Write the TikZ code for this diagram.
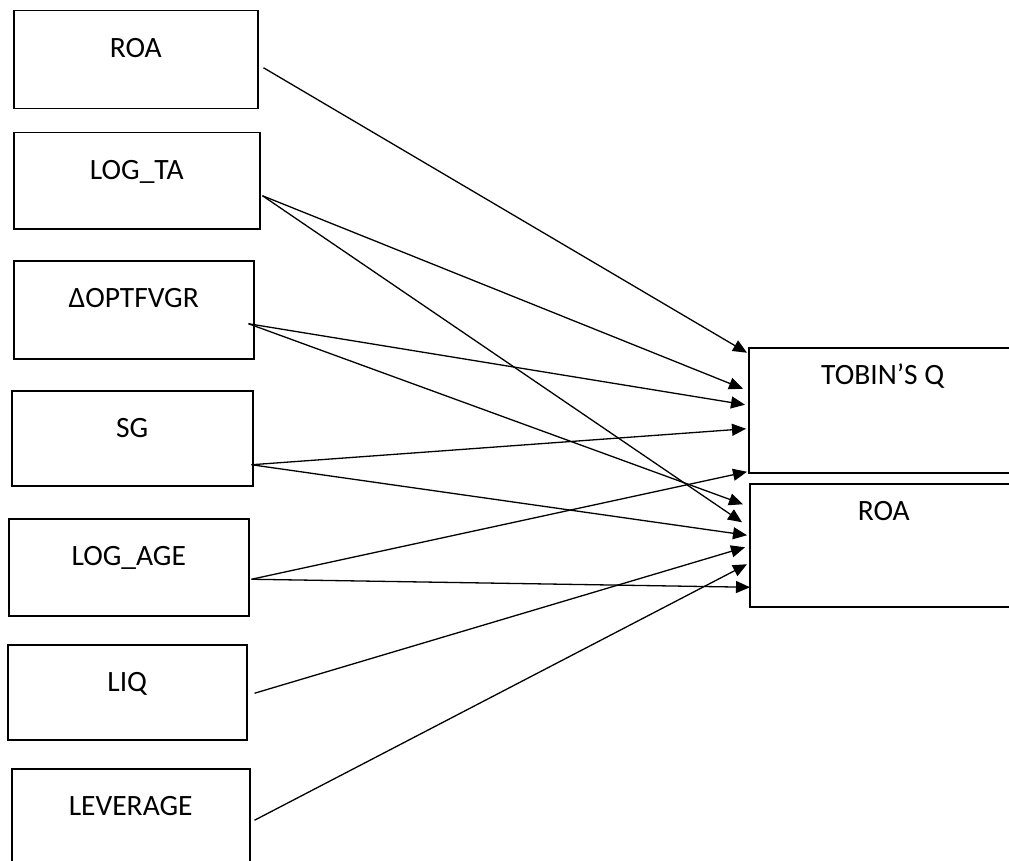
\documentclass[tikz,border=0pt]{standalone}
\usepackage{fontspec}
\setmainfont{Carlito}
\usetikzlibrary{arrows.meta}

\tikzset{
  var/.style={draw, line width=1.5pt, inner sep=0pt, anchor=north west,
    text height=47pt, font=\fontsize{29.5}{31}\selectfont},
  dep/.style={var, text height=37pt, minimum width=268pt},
  link/.style={line width=1.3pt, -{Triangle[length=14pt,width=12pt]}}
}

\begin{document}
\begin{tikzpicture}[x=1pt, y=-1pt]
\clip (0,0) rectangle (1009,861);

% independent variables
\node[var, minimum width=244pt, text depth=51pt] (roa) at (13,10) {ROA};
\node[var, minimum width=246pt, text depth=49pt] (logta) at (13,132) {LOG\_TA};
\node[var, minimum width=240pt, text depth=51pt] (dopt) at (13,260) {ΔOPTFVGR};
\node[var, minimum width=241pt, text depth=48pt] (sg) at (11,390) {SG};
\node[var, minimum width=240pt, text depth=50pt] (logage) at (8,518) {LOG\_AGE};
\node[var, minimum width=239pt, text depth=48pt] (liq) at (7,644) {LIQ};
\node[var, minimum width=238pt, text depth=60pt] (lev) at (11,768) {LEVERAGE};

% dependent variables
\node[dep, text depth=88pt] (tobq) at (748,347) {TOBIN’S Q};
\node[dep, text depth=86pt] (roaq) at (749,483) {ROA};

% paths
\draw[link] ([shift={(5,8)}]roa.east) -- ([shift={(-1,-57.5)}]tobq.west);
\draw[link] ([shift={(2,15)}]logta.east) -- ([shift={(-5,-21.5)}]tobq.west);
\draw[link] ([shift={(2,15)}]logta.east) -- ([shift={(-7,-23)}]roaq.west);
\draw[link] ([shift={(-6,14)}]dopt.east) -- ([shift={(-3,-5.5)}]tobq.west);
\draw[link] ([shift={(-6,14)}]dopt.east) -- ([shift={(-6,-41)}]roaq.west);
\draw[link] ([shift={(-2,26.5)}]sg.east) -- ([shift={(-2,18.5)}]tobq.west);
\draw[link] ([shift={(-2,26.5)}]sg.east) -- ([shift={(-2,-10)}]roaq.west);
\draw[link] ([shift={(2,12)}]logage.east) -- ([shift={(-1,61.5)}]tobq.west);
\draw[link] ([shift={(2,12)}]logage.east) -- ([shift={(1,42)}]roaq.west);
\draw[link] ([shift={(7,1)}]liq.east) -- ([shift={(-4,2)}]roaq.west);
\draw[link] ([shift={(4,-2)}]lev.east) -- ([shift={(-2,19)}]roaq.west);

\end{tikzpicture}
\end{document}
